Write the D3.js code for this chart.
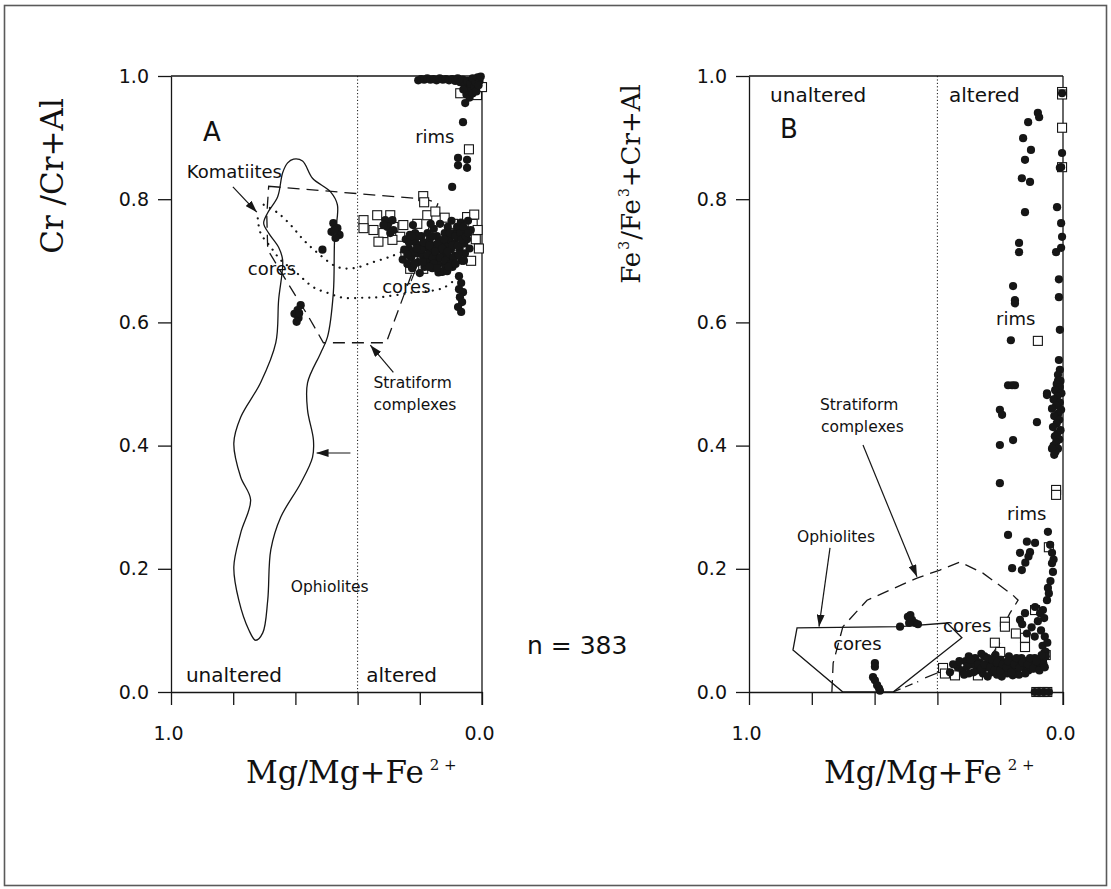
<!DOCTYPE html>
<html><head><meta charset="utf-8">
<script src="https://cdn.jsdelivr.net/npm/d3@7"></script>
<style>
body{margin:0;background:#fff;}
svg{display:block;}
.sans{font-family:"DejaVu Sans",sans-serif;fill:#111;}
.serif{font-family:"DejaVu Serif",serif;fill:#111;}
</style></head><body>
<svg id="c" width="1111" height="889"></svg>
<script>
// ---------- axes ----------
const xTicks = [1.0, 0.8, 0.6, 0.4, 0.2, 0.0];
const xTickLabels = ["1.0", "", "", "", "", "0.0"];
const yTicks = [0.0, 0.2, 0.4, 0.6, 0.8, 1.0];
const yTickLabels = ["0.0", "0.2", "0.4", "0.6", "0.8", "1.0"];
const alterationBoundary = 0.4;

// ---------- Panel A: Cr/(Cr+Al) vs Mg/(Mg+Fe2+) ----------
const aDots = [
 // top row (rims, Cr-rich)
 [0.205,0.993],[0.196,0.995],[0.186,0.994],[0.176,0.996],[0.166,0.994],[0.156,0.995],[0.146,0.993],[0.136,0.996],
 [0.126,0.994],[0.116,0.995],[0.106,0.993],[0.096,0.995],[0.086,0.992],[0.078,0.996],[0.070,0.990],[0.062,0.994],
 [0.055,0.985],[0.048,0.992],[0.042,0.978],[0.036,0.988],[0.030,0.996],[0.025,0.982],[0.020,0.990],[0.014,0.998],
 [0.008,0.992],[0.004,0.999],[0.050,0.970],[0.040,0.965],[0.030,0.972],[0.018,0.975],[0.060,0.978],[0.011,0.985],
 // rims column
 [0.054,0.956],[0.061,0.925],[0.077,0.867],[0.048,0.864],[0.077,0.855],[0.048,0.851],[0.096,0.820],
 // small core clusters
 [0.478,0.761],[0.465,0.753],[0.484,0.747],[0.458,0.742],[0.471,0.737],[0.475,0.750],[0.513,0.718],
 [0.583,0.628],[0.593,0.620],[0.603,0.614],[0.590,0.607],[0.596,0.601],[0.588,0.615],
 // left sub-cluster
 [0.311,0.766],[0.301,0.761],[0.288,0.766],[0.304,0.755],[0.285,0.750],[0.295,0.745],[0.317,0.758],
 // main cluster
 [0.245,0.735],[0.235,0.720],[0.228,0.705],[0.240,0.695],[0.225,0.688],[0.215,0.730],[0.210,0.712],[0.205,0.698],
 [0.200,0.725],[0.195,0.740],[0.190,0.708],[0.185,0.690],[0.180,0.722],[0.175,0.745],[0.172,0.700],[0.168,0.735],
 [0.165,0.715],[0.160,0.688],[0.155,0.752],[0.152,0.725],[0.148,0.705],[0.145,0.740],[0.140,0.695],[0.138,0.718],
 [0.135,0.760],[0.130,0.732],[0.128,0.682],[0.125,0.710],[0.120,0.745],[0.118,0.692],[0.115,0.725],[0.110,0.755],
 [0.108,0.705],[0.105,0.735],[0.100,0.718],[0.098,0.765],[0.095,0.690],[0.090,0.745],[0.088,0.728],[0.085,0.708],
 [0.080,0.755],[0.076,0.738],[0.072,0.720],[0.068,0.762],[0.065,0.700],[0.062,0.745],[0.058,0.728],[0.055,0.712],
 [0.050,0.750],[0.048,0.735],[0.045,0.765],[0.040,0.720],[0.036,0.750],[0.200,0.680],[0.215,0.745],[0.250,0.718],
 [0.255,0.702],[0.232,0.742],[0.222,0.758],[0.165,0.760],[0.140,0.681],[0.130,0.683],[0.112,0.683],
 [0.235,0.730],[0.220,0.715],[0.218,0.695],[0.205,0.740],[0.195,0.718],[0.188,0.730],[0.180,0.700],[0.175,0.710],
 [0.170,0.725],[0.160,0.740],[0.158,0.705],[0.150,0.715],[0.143,0.728],[0.135,0.705],[0.128,0.720],[0.122,0.735],
 [0.118,0.700],[0.110,0.715],[0.103,0.745],[0.095,0.725],[0.092,0.705],[0.085,0.740],[0.078,0.725],[0.070,0.745],
 [0.065,0.735],[0.060,0.755],[0.052,0.740],[0.045,0.745],[0.155,0.695],[0.145,0.688],[0.170,0.690],[0.190,0.698],
 [0.210,0.720],[0.225,0.740],[0.240,0.710],[0.100,0.695],[0.108,0.690],[0.085,0.695],[0.075,0.710],[0.058,0.700],
 // tail below the cluster
 [0.074,0.675],[0.067,0.664],[0.074,0.654],[0.061,0.649],[0.071,0.641],[0.064,0.633],[0.077,0.625],[0.067,0.617]
];
const aSquares = [
 [0.070,0.972],[0.016,0.969],[0.000,0.982],[0.038,0.974],[0.042,0.881],
 [0.189,0.805],[0.186,0.795],
 [0.381,0.766],[0.337,0.774],[0.295,0.774],[0.349,0.750],[0.317,0.745],[0.285,0.755],[0.263,0.739],[0.333,0.731],
 [0.381,0.753],[0.288,0.734],[0.253,0.758],
 [0.208,0.760],[0.176,0.774],[0.093,0.760],[0.048,0.771],[0.246,0.710],[0.231,0.687],[0.189,0.687],[0.080,0.710],
 [0.030,0.760],[0.020,0.735],[0.035,0.700],[0.014,0.750],[0.150,0.780],[0.120,0.770],[0.060,0.720],[0.010,0.720],
 [0.025,0.775],[0.160,0.700]
];
const aOphiolites = [
 [0.606,0.865],[0.577,0.862],[0.545,0.834],[0.487,0.812],[0.465,0.791],[0.474,0.734],[0.478,0.648],[0.497,0.576],
 [0.519,0.550],[0.561,0.502],[0.561,0.458],[0.542,0.409],[0.545,0.381],[0.583,0.339],[0.647,0.284],[0.679,0.231],
 [0.689,0.149],[0.705,0.096],[0.728,0.084],[0.750,0.101],[0.782,0.149],[0.798,0.203],[0.776,0.258],[0.744,0.312],
 [0.776,0.349],[0.798,0.404],[0.776,0.446],[0.712,0.502],[0.663,0.567],[0.654,0.636],[0.641,0.701],[0.654,0.722],
 [0.686,0.745],[0.702,0.761],[0.689,0.778],[0.657,0.804],[0.641,0.843],[0.625,0.859]
];
const aStratiform = [
 [0.686,0.821],[0.183,0.800],[0.141,0.794],[0.308,0.567],[0.510,0.567],[0.561,0.612],[0.631,0.669],[0.689,0.718],[0.692,0.774]
];
const aKomatiitesInner = [
 [0.702,0.791],[0.657,0.778],[0.615,0.758],[0.574,0.734],[0.529,0.713],[0.465,0.690],[0.413,0.688],[0.349,0.698],[0.288,0.708],[0.231,0.721]
];
const aKomatiitesOuter = [
 [0.721,0.769],[0.712,0.745],[0.679,0.722],[0.647,0.701],[0.606,0.685],[0.542,0.657],[0.497,0.648],[0.446,0.640],
 [0.385,0.640],[0.327,0.641],[0.231,0.648],[0.125,0.656],[0.071,0.677]
];
const aArrows = [
 [0.801,0.820,0.724,0.779],
 [0.285,0.519,0.359,0.563],
 [0.423,0.388,0.532,0.388]
];
const aLeaders = [[0.208,0.693,0.228,0.667]];
const aLabels = [
 {t:"A", x:0.897, y:0.894, c:"big"},
 {t:"rims", x:0.215, y:0.891, c:"mid"},
 {t:"Komatiites", x:0.949, y:0.834, c:"mid"},
 {t:"cores", x:0.753, y:0.677, c:"mid"},
 {t:"cores", x:0.321, y:0.648, c:"mid"},
 {t:"Stratiform", x:0.349, y:0.494, c:"small"},
 {t:"complexes", x:0.349, y:0.458, c:"small"},
 {t:"Ophiolites", x:0.615, y:0.162, c:"small"},
 {t:"unaltered", x:0.952, y:0.016, c:"reg"},
 {t:"altered", x:0.372, y:0.016, c:"reg"}
];

// ---------- Panel B: Fe3/(Fe3+Cr+Al) vs Mg/(Mg+Fe2+) ----------
const bDots = [
 [0.003,0.972],[0.006,0.852],
 [0.080,0.940],[0.076,0.933],[0.111,0.925],[0.127,0.899],[0.102,0.880],[0.121,0.864],[0.131,0.834],[0.105,0.828],
 [0.121,0.779],[0.140,0.729],[0.140,0.714],[0.159,0.659],[0.153,0.636],[0.153,0.631],[0.166,0.571],[0.175,0.498],
 [0.153,0.498],[0.162,0.498],
 [0.003,0.875],[0.010,0.851],[0.019,0.787],[0.006,0.761],[0.003,0.739],[0.022,0.714],[0.006,0.721],[0.013,0.670],
 [0.013,0.641],[0.010,0.588],[0.013,0.539],[0.010,0.523],[0.016,0.515],[0.016,0.505],[0.016,0.495],[0.016,0.485],
 [0.051,0.485],[0.051,0.482],
 [0.008,0.505],[0.020,0.500],[0.010,0.495],[0.025,0.490],[0.005,0.485],[0.018,0.480],[0.030,0.475],[0.010,0.470],
 [0.022,0.465],[0.035,0.460],[0.006,0.458],[0.015,0.452],[0.028,0.448],[0.012,0.442],[0.020,0.436],[0.032,0.430],
 [0.008,0.425],[0.018,0.420],[0.026,0.415],[0.012,0.410],[0.022,0.405],[0.030,0.400],[0.016,0.395],[0.024,0.390],
 [0.035,0.395],[0.028,0.385],
 [0.201,0.458],[0.194,0.450],[0.083,0.438],[0.201,0.401],[0.159,0.409],[0.201,0.339],
 [0.175,0.255],[0.048,0.260],[0.115,0.244],[0.089,0.242],[0.137,0.226],[0.105,0.227],[0.041,0.239],[0.035,0.226],
 [0.162,0.201],[0.131,0.198],[0.035,0.209],[0.032,0.195],[0.048,0.169],[0.051,0.149],[0.064,0.133],[0.073,0.128],
 [0.089,0.138],[0.121,0.128],[0.137,0.117],[0.045,0.160],[0.040,0.180],[0.030,0.215],[0.120,0.210],[0.110,0.220],
 [0.060,0.120],[0.080,0.115],[0.100,0.105],[0.115,0.095],[0.130,0.110],[0.070,0.100],[0.058,0.090],[0.065,0.075],
 [0.055,0.065],[0.050,0.080],[0.090,0.090],
 // cores cluster
 [0.335,0.040],[0.320,0.035],[0.310,0.050],[0.300,0.030],[0.290,0.045],[0.280,0.055],[0.275,0.035],[0.265,0.048],
 [0.255,0.030],[0.250,0.058],[0.245,0.040],[0.235,0.050],[0.228,0.032],[0.220,0.045],[0.215,0.060],[0.210,0.028],
 [0.205,0.040],[0.198,0.052],[0.190,0.035],[0.185,0.047],[0.178,0.030],[0.172,0.058],[0.168,0.040],[0.160,0.050],
 [0.152,0.035],[0.145,0.045],[0.140,0.028],[0.132,0.055],[0.125,0.040],[0.118,0.050],[0.110,0.035],[0.100,0.045],
 [0.090,0.055],[0.080,0.040],[0.072,0.050],[0.062,0.045],[0.055,0.058],[0.240,0.025],[0.195,0.025],[0.160,0.027],
 [0.260,0.062],[0.300,0.058],[0.350,0.045],[0.360,0.032],
 [0.330,0.050],[0.315,0.028],[0.305,0.042],[0.295,0.052],[0.285,0.032],[0.270,0.045],[0.260,0.038],[0.250,0.045],
 [0.240,0.055],[0.232,0.040],[0.225,0.052],[0.218,0.035],[0.210,0.048],[0.200,0.035],[0.192,0.045],[0.180,0.040],
 [0.175,0.050],[0.165,0.032],[0.155,0.045],[0.148,0.055],[0.138,0.040],[0.128,0.048],[0.120,0.030],[0.112,0.045],
 [0.105,0.055],[0.095,0.038],[0.085,0.050],[0.075,0.035],[0.068,0.060],[0.058,0.040],
 // ophiolite-field cores
 [0.519,0.106],[0.494,0.122],[0.481,0.117],[0.471,0.112],[0.490,0.112],[0.462,0.110],[0.486,0.125],
 [0.599,0.047],[0.599,0.041],[0.605,0.024],[0.599,0.019],[0.592,0.011],[0.586,0.006],[0.583,0.002],
 // on the axis
 [0.090,0.000],[0.075,0.000],[0.060,0.000],[0.045,0.000]
];
const bSquares = [
 [0.003,0.974],[0.003,0.970],[0.003,0.916],[0.003,0.852],[0.080,0.570],[0.022,0.328],[0.022,0.320],
 [0.185,0.114],[0.185,0.106],[0.089,0.133],[0.382,0.039],[0.376,0.030],[0.344,0.027],[0.271,0.027],[0.315,0.040],
 [0.217,0.080],[0.200,0.065],[0.121,0.073],[0.121,0.088],[0.067,0.044],[0.096,0.040],[0.045,0.235],[0.150,0.095],
 [0.055,0.060],[0.085,0.000],[0.065,0.000],[0.050,0.000]
];
const bOphiolites = [
 [0.847,0.104],[0.519,0.106],[0.369,0.112],[0.322,0.088],[0.541,0.000],[0.701,0.000],[0.860,0.068]
];
const bStratiform = [
 [0.736,0.000],[0.732,0.047],[0.701,0.106],[0.624,0.149],[0.465,0.185],[0.392,0.198],[0.328,0.211],[0.255,0.193],
 [0.159,0.157],[0.143,0.149],[0.169,0.128],[0.182,0.115]
];
const bStratiformLower = [[0.541,0.000],[0.461,0.017]];
const bArrows = [
 [0.637,0.401,0.465,0.187],
 [0.742,0.234,0.777,0.106]
];
const bLeaders = [[0.201,0.080,0.232,0.057],[0.439,0.023,0.385,0.034]];
const bLabels = [
 {t:"unaltered", x:0.933, y:0.958, c:"reg"},
 {t:"altered", x:0.363, y:0.958, c:"reg"},
 {t:"B", x:0.901, y:0.899, c:"big"},
 {t:"rims", x:0.213, y:0.596, c:"mid"},
 {t:"rims", x:0.178, y:0.279, c:"mid"},
 {t:"Ophiolites", x:0.847, y:0.244, c:"small"},
 {t:"Stratiform", x:0.774, y:0.458, c:"small"},
 {t:"complexes", x:0.771, y:0.422, c:"small"},
 {t:"cores", x:0.732, y:0.068, c:"mid"},
 {t:"cores", x:0.382, y:0.097, c:"mid"}
];

const sampleCount = "n = 383";

// ---------- drawing ----------
const svg = d3.select("#c");
const INK = "#161616";
const fontSizes = {big:26, mid:18, small:15.5, reg:20};

svg.append("rect").attr("x",4.5).attr("y",5.5).attr("width",1102).attr("height",880)
  .attr("fill","#fff").attr("stroke","#5a5a5a").attr("stroke-width",1.6);

const defs = svg.append("defs");
defs.append("marker").attr("id","ah").attr("viewBox","0 0 12 8").attr("refX",12).attr("refY",4)
  .attr("markerWidth",12).attr("markerHeight",8).attr("markerUnits","userSpaceOnUse").attr("orient","auto")
  .append("path").attr("d","M0,0 L12,4 L0,8 Z").attr("fill",INK);

function panel(cfg){
  const x = d3.scaleLinear().domain([1,0]).range([cfg.left, cfg.right]);
  const y = d3.scaleLinear().domain([0,1]).range([692, 76]);
  const g = svg.append("g");

  const ya = g.append("g").attr("transform",`translate(${cfg.left},0)`)
    .call(d3.axisLeft(y).tickValues(yTicks).tickSize(13).tickSizeOuter(0).tickPadding(9)
      .tickFormat((d,i)=>yTickLabels[i]));
  const xa = g.append("g").attr("transform","translate(0,692)")
    .call(d3.axisBottom(x).tickValues(xTicks).tickSize(13).tickSizeOuter(0).tickPadding(22)
      .tickFormat((d,i)=>xTickLabels[i]));
  [ya,xa].forEach(a=>{
    a.selectAll("path,line").attr("stroke",INK).attr("stroke-width",1.3);
    a.selectAll("text").attr("class","sans").attr("font-size",19).attr("fill",INK);
  });
  xa.selectAll("text").attr("dx",-3);
  g.append("line").attr("x1",x(1)).attr("x2",x(0)).attr("y1",y(1)).attr("y2",y(1))
    .attr("stroke",INK).attr("stroke-width",1.3);
  g.append("line").attr("x1",x(0)).attr("x2",x(0)).attr("y1",y(1)).attr("y2",y(0)+13)
    .attr("stroke",INK).attr("stroke-width",1.3);
  g.append("line").attr("x1",x(alterationBoundary)).attr("x2",x(alterationBoundary))
    .attr("y1",y(1)).attr("y2",y(0)).attr("stroke",INK).attr("stroke-width",1)
    .attr("stroke-dasharray","1.2,2.2");

  const line = d3.line().x(d=>x(d[0])).y(d=>y(d[1]));
  cfg.fields.forEach(f=>{
    g.append("path")
      .attr("d", line.curve(f.curve)(f.pts))
      .attr("fill","none").attr("stroke",INK).attr("stroke-width",f.w||1.3)
      .attr("stroke-dasharray",f.dash||null).attr("stroke-linecap",f.cap||"butt");
  });
  cfg.arrows.forEach(a=>{
    g.append("line").attr("x1",x(a[0])).attr("y1",y(a[1])).attr("x2",x(a[2])).attr("y2",y(a[3]))
      .attr("stroke",INK).attr("stroke-width",1.2).attr("marker-end","url(#ah)");
  });
  cfg.leaders.forEach(a=>{
    g.append("line").attr("x1",x(a[0])).attr("y1",y(a[1])).attr("x2",x(a[2])).attr("y2",y(a[3]))
      .attr("stroke",INK).attr("stroke-width",1.2);
  });

  // squares underneath, dots on top
  g.append("g").selectAll("rect").data(cfg.squares).join("rect")
    .attr("x",d=>x(d[0])-4.5).attr("y",d=>y(d[1])-4.5).attr("width",9).attr("height",9)
    .attr("fill","#fff").attr("stroke",INK).attr("stroke-width",1.1);
  g.append("g").selectAll("circle").data(cfg.dots).join("circle")
    .attr("cx",d=>x(d[0])).attr("cy",d=>y(d[1])).attr("r",4.1).attr("fill",INK);

  g.append("g").selectAll("text").data(cfg.labels).join("text")
    .attr("class","sans").attr("x",d=>x(d.x)).attr("y",d=>y(d.y))
    .attr("font-size",d=>fontSizes[d.c]).text(d=>d.t);

  const xt = g.append("text").attr("class","serif").attr("x",cfg.left+75).attr("y",783).attr("font-size",31);
  xt.append("tspan").text("Mg/Mg+Fe");
  xt.append("tspan").attr("font-size",15).attr("dx",6).attr("dy",-13).text("2 +");
  return {x,y,g};
}

panel({left:171, right:482, dots:aDots, squares:aSquares, labels:aLabels,
  arrows:aArrows, leaders:aLeaders,
  fields:[
    {pts:aOphiolites, curve:d3.curveCatmullRomClosed},
    {pts:aStratiform, curve:d3.curveLinearClosed, dash:"12,7"},
    {pts:aKomatiitesInner, curve:d3.curveCatmullRom, dash:"0.1,7", w:2.2, cap:"round"},
    {pts:aKomatiitesOuter, curve:d3.curveCatmullRom, dash:"0.1,7", w:2.2, cap:"round"}
  ]});
panel({left:749, right:1063, dots:bDots, squares:bSquares, labels:bLabels,
  arrows:bArrows, leaders:bLeaders,
  fields:[
    {pts:bOphiolites, curve:d3.curveLinearClosed},
    {pts:bStratiform, curve:d3.curveLinear, dash:"12,7"},
    {pts:bStratiformLower, curve:d3.curveLinear, dash:"8,5"}
  ]});

svg.append("text").attr("class","serif").attr("font-size",31)
  .attr("transform","translate(63,176) rotate(-90)").attr("text-anchor","middle").text("Cr /Cr+Al");
const bt = svg.append("text").attr("class","serif").attr("font-size",26)
  .attr("transform","translate(640,184) rotate(-90)").attr("text-anchor","middle");
bt.append("tspan").text("Fe");
bt.append("tspan").attr("font-size",14).attr("dx",2).attr("dy",-11).text("3");
bt.append("tspan").attr("dx",1).attr("dy",11).text("/Fe");
bt.append("tspan").attr("font-size",14).attr("dx",2).attr("dy",-11).text("3");
bt.append("tspan").attr("dx",1).attr("dy",11).text("+Cr+Al");

svg.append("text").attr("class","sans").attr("x",527).attr("y",654).attr("font-size",25).text(sampleCount);
</script>
</body></html>
